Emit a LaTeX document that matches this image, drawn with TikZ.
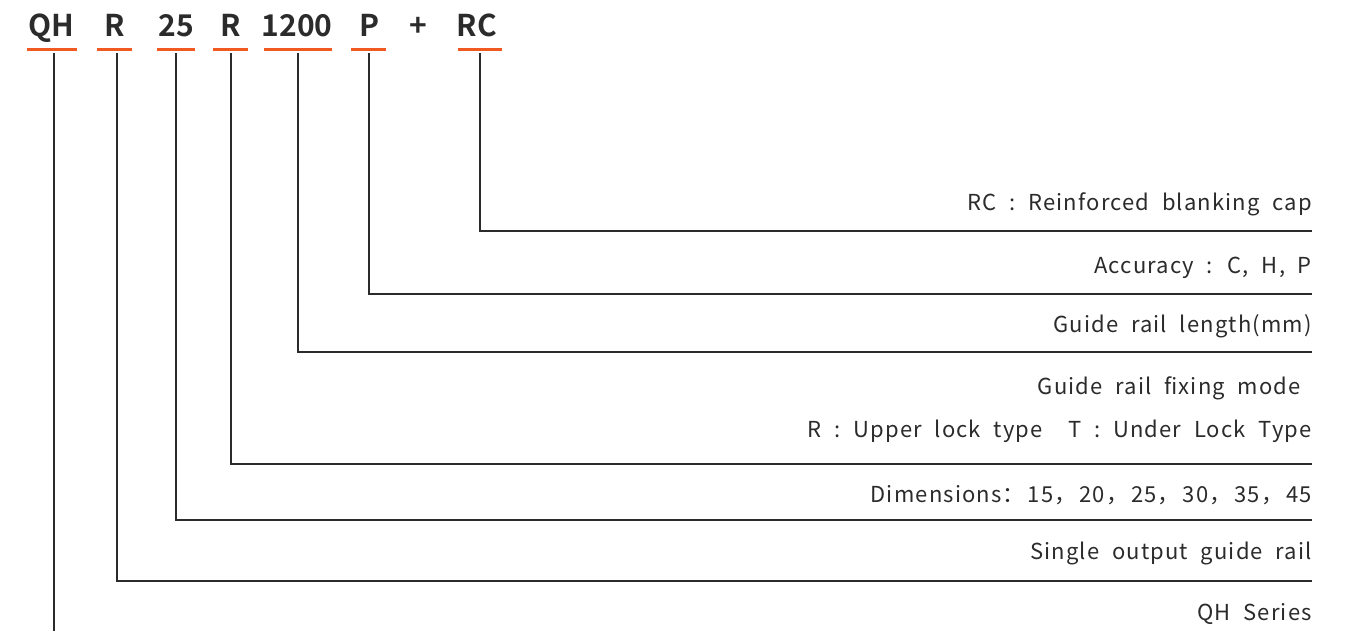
\documentclass[tikz,border=0pt]{standalone}
\usepackage{fontspec}
\setmainfont{Noto Sans CJK SC}[BoldFont={Noto Sans CJK SC Bold}]
\newfontfamily\descfont{Noto Sans CJK SC}[LetterSpace=5.2, WordSpace=2.1]
\definecolor{accent}{HTML}{F05A22}
\definecolor{ink}{HTML}{2B2B2B}
\newcommand\fwcomma{，\kern3pt}
\begin{document}
\begin{tikzpicture}[x=1pt,y=-1pt,
  code/.style={font=\fontsize{30}{36}\selectfont\bfseries, text=ink, anchor=base, inner sep=0pt},
  desc/.style={font=\descfont\fontsize{22}{26}\selectfont, text=ink, anchor=base east, inner sep=0pt},
  uline/.style={draw=accent, line width=3pt},
  lead/.style={draw=ink, line width=1.8pt}]
\useasboundingbox (0,0) rectangle (1348,631);
% header codes
\node[code] (hqh) at (51,37) {QH};
\node[code] (hr1) at (114.5,37) {R};
\node[code] (h25) at (176,37) {25};
\node[code] (hr2) at (230.5,37) {R};
\node[code] (hlen) at (297,37) {1200};
\node[code] (hp) at (369,37) {P};
\node[code] (hplus) at (418,37) {+};
\node[code] (hrc) at (477,37) {RC};
% orange underlines
\draw[uline] (27,50) -- (77,50);
\draw[uline] (97,50) -- (132,50);
\draw[uline] (157,50) -- (195,50);
\draw[uline] (213,50) -- (248,50);
\draw[uline] (264,50) -- (332,50);
\draw[uline] (351,50) -- (386,50);
\draw[uline] (458,50) -- (502,50);
% descriptions
\node[desc] (trc) at (1312,211) {RC : Reinforced blanking cap};
\node[desc] (tacc) at (1312,273) {Accuracy : C, H, P};
\node[desc] (tlen) at (1312,332) {Guide rail length(mm)};
\node[desc] (tfix) at (1301,394) {Guide rail fixing mode};
\node[desc] (tlock) at (1312,437) {R : Upper lock type\ \ T : Under Lock Type};
\node[desc] (tdim) at (1312,502) {Dimensions：\kern3pt 15\fwcomma 20\fwcomma 25\fwcomma 30\fwcomma 35\fwcomma 45};
\node[desc] (tsgl) at (1312,559) {Single output guide rail};
\node[desc] (tser) at (1312,620) {QH Series};
% leader start and end points
\coordinate (sqh) at (54,53);
\coordinate (sr1) at (117,53);
\coordinate (s25) at (176,53);
\coordinate (sr2) at (231,53);
\coordinate (slen) at (298,53);
\coordinate (sp) at (369,53);
\coordinate (src) at (480,53);
\coordinate (eqh) at (54,631);
\coordinate (er1) at (1312,581);
\coordinate (e25) at (1312,520);
\coordinate (er2) at (1312,464);
\coordinate (elen) at (1312,352);
\coordinate (ep) at (1312,294);
\coordinate (erc) at (1312,231);
% leaders
\draw[lead] (sqh) -- (eqh);
\draw[lead] (sr1) |- (er1);
\draw[lead] (s25) |- (e25);
\draw[lead] (sr2) |- (er2);
\draw[lead] (slen) |- (elen);
\draw[lead] (sp) |- (ep);
\draw[lead] (src) |- (erc);
\end{tikzpicture}
\end{document}
